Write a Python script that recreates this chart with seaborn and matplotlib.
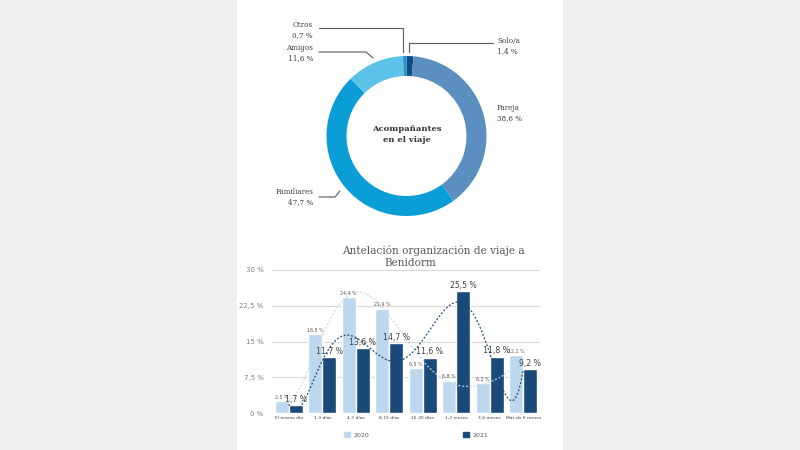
import numpy as np
import pandas as pd
import matplotlib
matplotlib.use("Agg")
import matplotlib.pyplot as plt
import seaborn as sns

# Donut data
companions = ["Solo/a", "Pareja", "Familiares", "Amigos", "Otros"]
companion_pct = [1.4, 38.6, 47.7, 11.6, 0.7]
companion_colors = ["#0c4c88", "#5b8fbf", "#0a9dd6", "#5dc2e8", "#2b8fc4"]

# Bar chart data
periods = ["El mismo día", "1-3 días", "4-7 días", "8-15 días", "16-30 días",
           "1-2 meses", "3-6 meses", "Más de 6 meses"]
years = ["2020", "2021"]
pct_2020 = [2.5, 16.5, 24.4, 21.9, 9.5, 6.8, 6.2, 12.1]
pct_2021 = [1.7, 11.7, 13.6, 14.7, 11.6, 25.5, 11.8, 9.2]
year_colors = ["#bdd7ee", "#1b4a7a"]

def pct_fmt(v):
    return f"{v:.1f}".replace(".", ",") + " %"

sns.set_theme(style="white")
plt.rcParams["font.family"] = ["DejaVu Sans"]

W, H = 800, 450
fig = plt.figure(figsize=(8, 4.5), dpi=100)
fig.patch.set_facecolor("#efefef")
fig.add_artist(plt.Rectangle((237 / W, 0), 326 / W, 1, transform=fig.transFigure,
                             facecolor="white", edgecolor="none", zorder=0))

def fx(px):
    return px / W

def fy(py):
    return 1 - py / H

# ---- donut ----
cx, cy, r = 406.5, 136, 80
k = 1.25
side = 2 * r * k
axp = fig.add_axes([fx(cx - side / 2), fy(cy + side / 2), side / W, side / H])
axp.set_xlim(-k, k)
axp.set_ylim(-k, k)
axp.axis("off")
axp.pie(companion_pct, colors=companion_colors, startangle=90, counterclock=False,
        radius=1, wedgeprops=dict(width=0.25, edgecolor="none"))
axp.text(0, 0.02, "Acompañantes\nen el viaje", ha="center", va="center",
         fontsize=6, fontweight="bold", family="DejaVu Serif", color="#333333",
         linespacing=1.5)

tcol = "#404040"
lcol = "#595959"
lab_kw = dict(fontsize=5.2, family="DejaVu Serif", color=tcol, linespacing=1.4)
# labels in figure pixel coords
fig.text(fx(313), fy(30), "Otros\n" + pct_fmt(companion_pct[4]), ha="right", va="center", **lab_kw)
fig.text(fx(313), fy(53), "Amigos\n" + pct_fmt(companion_pct[3]), ha="right", va="center", **lab_kw)
fig.text(fx(313), fy(197), "Familiares\n" + pct_fmt(companion_pct[2]), ha="right", va="center", **lab_kw)
fig.text(fx(497), fy(46), "Solo/a\n" + pct_fmt(companion_pct[0]), ha="left", va="center", **lab_kw)
fig.text(fx(497), fy(113), "Pareja\n" + pct_fmt(companion_pct[1]), ha="left", va="center", **lab_kw)

def leader(xs, ys):
    fig.add_artist(plt.Line2D([fx(x) for x in xs], [fy(y) for y in ys],
                              transform=fig.transFigure, color=lcol, lw=0.8))

leader([319, 403, 403], [28, 28, 52])
leader([319, 366, 373], [52, 52, 58])
leader([409, 409, 493], [52, 43, 43])
leader([319, 335, 340], [197, 197, 191])

# ---- bar chart ----
axb = fig.add_axes([fx(272), fy(413), (540 - 272) / W, (413 - 270) / H])
df = pd.DataFrame({
    "periodo": periods * 2,
    "anio": [years[0]] * len(periods) + [years[1]] * len(periods),
    "pct": pct_2020 + pct_2021,
})
sns.barplot(data=df, x="periodo", y="pct", hue="anio", palette=year_colors,
            width=0.84, ax=axb, legend=False, saturation=1, zorder=2)
axb.yaxis.grid(True, color="#d9d9d9", lw=0.8)
axb.set_axisbelow(True)
for s in axb.spines.values():
    s.set_visible(False)

# polynomial trend lines
xi = np.arange(len(periods))
sns.regplot(x=xi, y=np.array(pct_2020), order=6, ci=None, scatter=False, ax=axb,
            line_kws=dict(color="#c9daea", lw=0.9, ls=(0, (1.5, 1.5)), zorder=3))
sns.regplot(x=xi, y=np.array(pct_2021), order=6, ci=None, scatter=False, ax=axb,
            line_kws=dict(color="#1b4a7a", lw=0.9, ls=(0, (1.5, 1.5)), zorder=3))
axb.set_xlim(-0.5, len(periods) - 0.5)
axb.set_ylim(0, 30)
axb.set_yticks([0, 7.5, 15, 22.5, 30])
axb.set_yticklabels(["0 %", "7,5 %", "15 %", "22,5 %", "30 %"])
axb.set_xticks(xi)
axb.set_xticklabels(periods)
axb.set_xlabel("")
axb.set_ylabel("")
axb.tick_params(axis="y", labelsize=5, labelcolor="#808080", length=0, pad=6)
axb.tick_params(axis="x", labelsize=3.2, labelcolor="#404040", length=0, pad=2)

c20, c21 = axb.containers[0], axb.containers[1]
axb.bar_label(c20, labels=[pct_fmt(v) for v in pct_2020], fontsize=3.4,
              color="#595959", padding=1, zorder=5)
axb.bar_label(c21, labels=[pct_fmt(v) for v in pct_2021], fontsize=5.6,
              color="#404040", padding=1, zorder=5)

fig.text(fx(433), fy(250), "Antelación organización de viaje a", ha="center", va="center",
         fontsize=7.6, family="DejaVu Serif", color="#595959")
fig.text(fx(410), fy(263), "Benidorm", ha="center", va="center",
         fontsize=7.6, family="DejaVu Serif", color="#595959")

handles = [plt.Rectangle((0, 0), 1, 1, color=c) for c in year_colors]
leg = fig.legend(handles, years, loc="center", bbox_to_anchor=(fx(416), fy(435)),
                 ncol=2, frameon=False, fontsize=4.5, handlelength=0.9,
                 handleheight=0.9, columnspacing=15, handletextpad=0.6)
for t in leg.get_texts():
    t.set_color("#595959")

fig.savefig("out.png", dpi=100, facecolor=fig.get_facecolor())
